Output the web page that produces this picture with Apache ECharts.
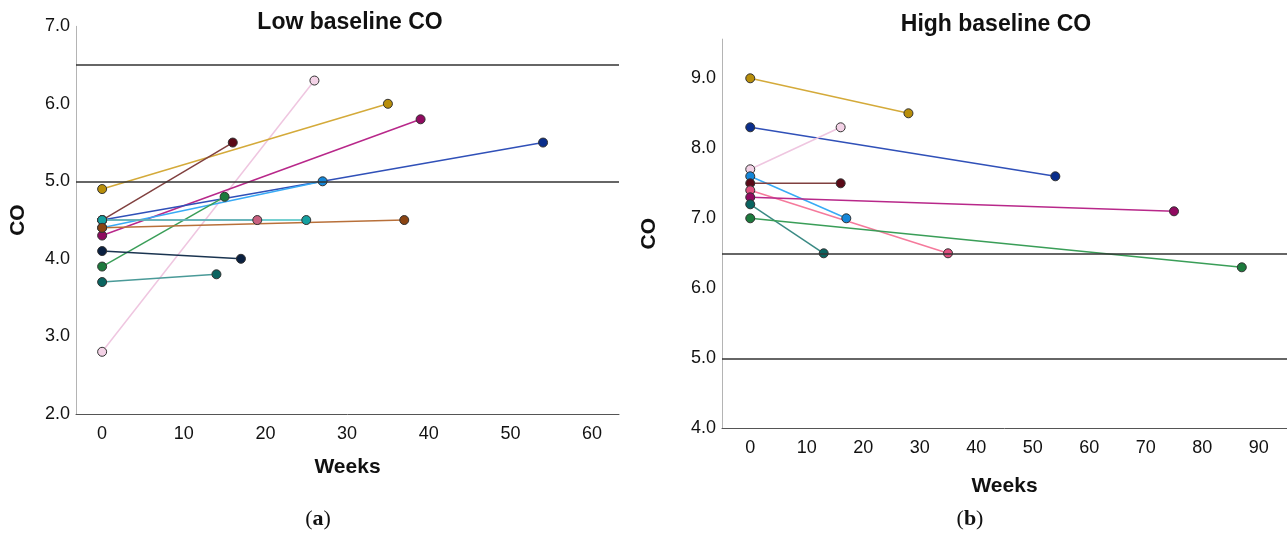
<!DOCTYPE html>
<html>
<head>
<meta charset="utf-8">
<script src="https://cdn.jsdelivr.net/npm/echarts@6/dist/echarts.min.js"></script>
<style>
  html, body { margin: 0; background: #fff; }
  #chart { width: 1287px; height: 536px; }
</style>
</head>
<body>
<div id="chart"></div>
<script>
// (a) low baseline CO: every patient starts at week 0
const lowWeeks = [26, 35, 16, 39, 54, 27, 15, 19, 25, 37, 17, 14]
const lowStart = [2.8, 4.9, 4.5, 4.3, 4.5, 4.4, 3.9, 4.5, 4.5, 4.4, 4.1, 3.7]
const lowEnd   = [6.3, 6.0, 5.5, 5.8, 5.5, 5.0, 4.8, 4.5, 4.5, 4.5, 4.0, 3.8]
const lowRefLines = [6.5, 5.0]
const lowXTicks = [0, 10, 20, 30, 40, 50, 60]
const lowYTicks = [2, 3, 4, 5, 6, 7]

// (b) high baseline CO
const highWeeks = [28, 54, 16, 17, 16, 35, 75, 13, 87]
const highStart = [9.0, 8.3, 7.7, 7.6, 7.5, 7.4, 7.3, 7.2, 7.0]
const highEnd   = [8.5, 7.6, 8.3, 7.0, 7.5, 6.5, 7.1, 6.5, 6.3]
const highRefLines = [6.5, 5.0]
const highXTicks = [0, 10, 20, 30, 40, 50, 60, 70, 80, 90]
const highYTicks = [4, 5, 6, 7, 8, 9]

// colours (line, point) per patient
const lowLine  = ['#efc6e0', '#d4aa3a', '#80403f', '#b8288a', '#3050b8', '#38aaf5', '#3a9e58', '#c07088', '#48c0c0', '#b8703a', '#1a3450', '#4a9a98']
const lowPoint = ['#f3d2e6', '#b88e0a', '#5a0a18', '#900a60', '#0a2e8c', '#1486d8', '#1c7a3c', '#c86080', '#14a0a0', '#8a4412', '#0a2040', '#0a6460']
const highLine  = ['#d4aa3a', '#3050b8', '#efc6e0', '#38aaf5', '#80403f', '#f57a9c', '#b8288a', '#3a8a84', '#3a9e58']
const highPoint = ['#b88e0a', '#0a2e8c', '#f3d2e6', '#1486d8', '#5a0a18', '#e05080', '#900a60', '#0a6460', '#1c7a3c']

const font = 'Liberation Sans, Arial, sans-serif'

function patientSeries(weeks, start, end, lines, points, idx) {
  return weeks.map((w, i) => ({
    type: 'line',
    xAxisIndex: idx,
    yAxisIndex: idx,
    data: [[0, start[i]], [w, end[i]]],
    symbol: 'circle',
    symbolSize: 9,
    lineStyle: { color: lines[i], width: 1.5 },
    itemStyle: { color: points[i], borderColor: '#333', borderWidth: 1 },
    z: 3
  }))
}

function refSeries(values, idx) {
  return {
    type: 'line',
    xAxisIndex: idx,
    yAxisIndex: idx,
    data: [],
    z: 1,
    markLine: {
      silent: true,
      symbol: 'none',
      label: { show: false },
      lineStyle: { color: '#333', width: 1.5, type: 'solid' },
      data: values.map(v => ({ yAxis: v }))
    }
  }
}

function xAxis(idx, min, max, ticks, gap) {
  return {
    type: 'value', gridIndex: idx, min, max,
    name: 'Weeks', nameLocation: 'middle', nameGap: gap,
    nameTextStyle: { fontFamily: font, fontSize: 21, fontWeight: 'bold', color: '#111' },
    axisLine: { onZero: false, lineStyle: { color: '#555', width: 1 } },
    axisTick: { show: false },
    splitLine: { show: false },
    axisLabel: { customValues: ticks, fontFamily: font, fontSize: 18, color: '#111', margin: 11 }
  }
}

function yAxis(idx, min, max, ticks, gap) {
  return {
    type: 'value', gridIndex: idx, min, max,
    name: 'CO', nameLocation: 'middle', nameGap: gap, nameRotate: 90,
    nameTextStyle: { fontFamily: font, fontSize: 21, fontWeight: 'bold', color: '#111' },
    axisLine: { show: true, onZero: false, lineStyle: { color: '#b4b4b4', width: 1 } },
    axisTick: { show: false },
    splitLine: { show: false },
    axisLabel: { customValues: ticks, formatter: v => v.toFixed(1), fontFamily: font, fontSize: 18, color: '#111', margin: 6 }
  }
}

const chart = echarts.init(document.getElementById('chart'), null, { renderer: 'canvas' })

chart.setOption({
  animation: false,
  backgroundColor: '#fff',
  grid: [
    { left: 76, top: 26.3, width: 543, height: 387.5 },
    { left: 722, top: 39.1, width: 567, height: 389.2 }
  ],
  xAxis: [
    xAxis(0, -3.2, 63.3, lowXTicks, 43),
    xAxis(1, -5, 95, highXTicks, 47)
  ],
  yAxis: [
    yAxis(0, 2, 7, lowYTicks, 47),
    yAxis(1, 4, 9.56, highYTicks, 62)
  ],
  graphic: [
    { type: 'text', x: 350, y: 23, style: { text: 'Low baseline CO', font: 'bold 23px ' + font, fill: '#111', align: 'center', verticalAlign: 'middle' } },
    { type: 'text', x: 996, y: 25, style: { text: 'High baseline CO', font: 'bold 23px ' + font, fill: '#111', align: 'center', verticalAlign: 'middle' } },
    { type: 'text', x: 318, y: 519, style: { text: '{p|(}{b|a}{p|)}', align: 'center', verticalAlign: 'middle',
        rich: { p: { fontFamily: 'Liberation Serif, serif', fontSize: 22, fill: '#111' }, b: { fontFamily: 'Liberation Serif, serif', fontSize: 22, fontWeight: 'bold', fill: '#111' } } } },
    { type: 'text', x: 970, y: 519, style: { text: '{p|(}{b|b}{p|)}', align: 'center', verticalAlign: 'middle',
        rich: { p: { fontFamily: 'Liberation Serif, serif', fontSize: 22, fill: '#111' }, b: { fontFamily: 'Liberation Serif, serif', fontSize: 22, fontWeight: 'bold', fill: '#111' } } } }
  ],
  series: [
    refSeries(lowRefLines, 0),
    refSeries(highRefLines, 1),
    ...patientSeries(lowWeeks, lowStart, lowEnd, lowLine, lowPoint, 0),
    ...patientSeries(highWeeks, highStart, highEnd, highLine, highPoint, 1)
  ]
})

window.addEventListener('resize', () => chart.resize())
</script>
</body>
</html>
